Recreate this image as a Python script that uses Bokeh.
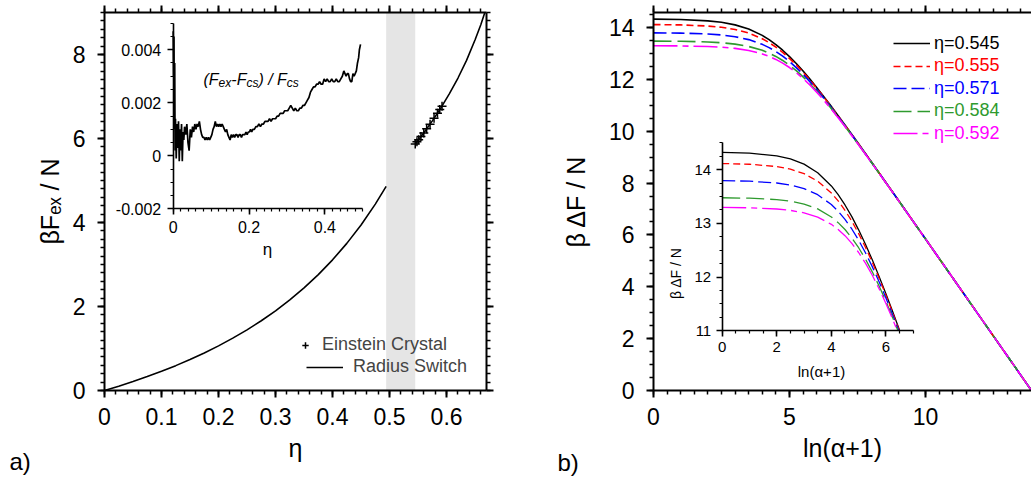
import numpy as np
from bokeh.plotting import figure
from bokeh.layouts import row
from bokeh.models import (Range1d, LinearAxis, Legend, LegendItem, BoxAnnotation, Label,
                          SingleIntervalTicker, PrintfTickFormatter, CustomJSTickFormatter)
from bokeh.embed import file_html
from bokeh.resources import INLINE

FONT = "Liberation Sans"

# ---------------- panel a data ----------------
eta_fluid = [0.0, 0.025, 0.05, 0.075, 0.1, 0.125, 0.15, 0.175, 0.2, 0.225, 0.25,
             0.275, 0.3, 0.325, 0.35, 0.375, 0.4, 0.425, 0.45, 0.475, 0.494]
f_fluid = [0.0, 0.103, 0.213, 0.331, 0.457, 0.592, 0.737, 0.894, 1.063, 1.246, 1.444,
           1.661, 1.898, 2.158, 2.444, 2.760, 3.111, 3.503, 3.942, 4.438, 4.862]
eta_solid = [0.545, 0.56, 0.575, 0.59, 0.605, 0.62, 0.635, 0.65, 0.66, 0.67]
f_solid = [5.87, 6.13, 6.42, 6.73, 7.07, 7.44, 7.86, 8.35, 8.71, 9.12]
eta_ec = [0.545, 0.548, 0.551, 0.555, 0.56, 0.565, 0.571, 0.578, 0.584, 0.588, 0.592]
f_ec = [5.87, 5.92, 5.97, 6.05, 6.13, 6.23, 6.34, 6.48, 6.60, 6.69, 6.77]
coexistence = [0.494, 0.545]
legend_a = ["Einstein Crystal", "Radius Switch"]

eta_dev = [0.000, 0.001, 0.002, 0.003, 0.004, 0.005, 0.006,
           0.008, 0.010, 0.012, 0.014, 0.016, 0.018, 0.020, 0.022, 0.024, 0.026, 0.028, 0.030,
           0.033, 0.036, 0.039, 0.042, 0.045, 0.048, 0.051, 0.054, 0.057, 0.060,
           0.063, 0.066, 0.069, 0.072, 0.075, 0.078, 0.081, 0.084, 0.087, 0.090,
           0.093, 0.096, 0.099, 0.102, 0.105, 0.108, 0.111, 0.114, 0.117, 0.120,
           0.123, 0.126, 0.129, 0.132, 0.135, 0.138, 0.141, 0.144, 0.147, 0.150,
           0.153, 0.156, 0.159, 0.162, 0.165, 0.168, 0.171, 0.174, 0.177, 0.180,
           0.183, 0.186, 0.189, 0.192, 0.195, 0.198, 0.201, 0.204, 0.207, 0.210,
           0.214, 0.218, 0.222, 0.226, 0.230, 0.234, 0.238, 0.242, 0.246, 0.250,
           0.254, 0.258, 0.262, 0.266, 0.270, 0.274, 0.278, 0.282, 0.286, 0.290,
           0.294, 0.298, 0.302, 0.306, 0.310, 0.314, 0.318, 0.322, 0.326, 0.330,
           0.334, 0.338, 0.342, 0.346, 0.350, 0.354, 0.358, 0.362, 0.366, 0.370,
           0.374, 0.378, 0.382, 0.386, 0.390, 0.394, 0.398, 0.402, 0.406, 0.410,
           0.414, 0.418, 0.422, 0.426, 0.430, 0.434, 0.438, 0.442, 0.446, 0.450,
           0.453, 0.456, 0.459, 0.462, 0.465, 0.468, 0.471, 0.474, 0.477, 0.480,
           0.483, 0.486, 0.489, 0.491, 0.494]
dev = [0.0047, 0.0030, 0.0045, 0.0010, 0.0035, 0.0002, 0.0014,
       -0.0001, 0.0012, 0.0003, 0.0013, -0.0002, 0.0010, 0.0002, 0.0012, -0.0002, 0.0009, 0.0006, 0.0011,
       0.0008, 0.0012, 0.0005, 0.0002, 0.0010, 0.0007, 0.0011, 0.0009, 0.0012, 0.0010,
       0.0012, 0.0011, 0.0013, 0.0010, 0.0008, 0.0007, 0.0007, 0.0006, 0.0007, 0.0006,
       0.0007, 0.0006, 0.0007, 0.0008, 0.0010, 0.0011, 0.0013, 0.0011, 0.0012, 0.0011,
       0.0012, 0.0011, 0.0012, 0.0011, 0.0010, 0.0009, 0.0010, 0.0008, 0.0007, 0.0006,
       0.0008, 0.0007, 0.0008, 0.0007, 0.0008, 0.0008, 0.0007, 0.0008, 0.0008, 0.0007,
       0.0008, 0.0008, 0.0008, 0.0009, 0.0008, 0.0009, 0.0009, 0.0010, 0.0009, 0.0010,
       0.0010, 0.0011, 0.0011, 0.0012, 0.0011, 0.0012, 0.0012, 0.0013, 0.0013, 0.0013,
       0.0014, 0.0013, 0.0014, 0.0014, 0.0014, 0.0015, 0.0015, 0.0016, 0.0016, 0.0016,
       0.0017, 0.0017, 0.0017, 0.0018, 0.0019, 0.0018, 0.0017, 0.0018, 0.0017, 0.0017,
       0.0018, 0.0018, 0.0019, 0.0019, 0.0020, 0.0021, 0.0022, 0.0024, 0.0025, 0.0026,
       0.0026, 0.0027, 0.0027, 0.0028, 0.0027, 0.0027, 0.0029, 0.0028, 0.0029, 0.0028,
       0.0028, 0.0029, 0.0028, 0.0028, 0.0029, 0.0028, 0.0028, 0.0029, 0.0030, 0.0032,
       0.0031, 0.0030, 0.0031, 0.0031, 0.0029, 0.0028, 0.0028, 0.0031, 0.0030, 0.0031,
       0.0032, 0.0035, 0.0037, 0.0040, 0.0042]

# ---------------- panel b data ----------------
ln_alpha = [0, 1, 2, 2.5, 3, 3.5, 4, 4.25, 4.5, 4.75, 5, 5.25, 5.5, 5.75, 6, 6.25, 6.5,
            7, 7.5, 8, 9, 10, 11, 12, 13, 13.9]
dF_545 = [14.323, 14.308, 14.257, 14.201, 14.103, 13.944, 13.697, 13.534, 13.343, 13.125, 12.880,
          12.611, 12.321, 12.013, 11.689, 11.354, 11.009, 10.299, 9.572, 8.834, 7.345, 5.849,
          4.35, 2.85, 1.35, 0.0]
dF_555 = [14.114, 14.101, 14.058, 14.010, 13.926, 13.786, 13.566, 13.419, 13.244, 13.041, 12.810,
          12.555, 12.276, 11.977, 11.662, 11.333, 10.993, 10.290, 9.567, 8.832, 7.344, 5.849,
          4.35, 2.85, 1.35, 0.0]
dF_571 = [13.796, 13.785, 13.752, 13.714, 13.647, 13.534, 13.351, 13.226, 13.075, 12.896, 12.688,
          12.454, 12.195, 11.913, 11.612, 11.294, 10.963, 10.273, 9.557, 8.826, 7.343, 5.85,
          4.35, 2.85, 1.35, 0.0]
dF_584 = [13.477, 13.469, 13.443, 13.413, 13.360, 13.270, 13.120, 13.014, 12.886, 12.730, 12.547,
          12.335, 12.098, 11.834, 11.550, 11.245, 10.926, 10.252, 9.545, 8.820, 7.341, 5.85,
          4.35, 2.85, 1.35, 0.0]
dF_592 = [13.297, 13.290, 13.268, 13.242, 13.196, 13.116, 12.982, 12.888, 12.771, 12.628, 12.458,
          12.260, 12.035, 11.783, 11.509, 11.213, 10.901, 10.237, 9.537, 8.815, 7.340, 5.85,
          4.35, 2.85, 1.35, 0.0]
series_labels = ["η=0.545", "η=0.555", "η=0.571", "η=0.584", "η=0.592"]
series_values = [dF_545, dF_555, dF_571, dF_584, dF_592]
series_colors = ["#000000", "#ff0000", "#0000ff", "#2e9a2e", "#ff00ff"]
series_dashes = ["solid", "7 4", "13 5", "18 6", "24 5 6 5"]

# ---------------- geometry (pixels) ----------------
H = 477
WA, WB = 530, 501
A_L, A_R, A_T, A_B = 104, 486, 12, 391          # frame of panel a (page px)
B_L, B_R, B_T, B_B = 653, 1031, 10, 390         # frame of panel b (page px)
TAG_BASELINE = 462                              # page px of the a) / b) tags


def px_lin(p, p0, v0, p1, v1):
    return v0 + (p - p0) * (v1 - v0) / (p1 - p0)


def style_axis(ax, size="23px", lw=2.0, tick_out=7, minor_out=4, standoff=12):
    ax.axis_line_width = lw
    ax.axis_line_color = "black"
    ax.major_tick_line_width = lw
    ax.major_tick_line_color = "black"
    ax.minor_tick_line_width = lw * 0.75
    ax.minor_tick_line_color = "black"
    ax.major_tick_out = tick_out
    ax.major_tick_in = 0
    ax.minor_tick_out = minor_out
    ax.minor_tick_in = 0
    ax.major_label_text_font = FONT
    ax.major_label_text_font_size = size
    ax.major_label_text_color = "black"
    ax.major_label_standoff = standoff
    ax.axis_label_text_font = FONT
    ax.axis_label_text_font_style = "normal"
    ax.axis_label_text_color = "black"
    ax.axis_label_text_font_size = "25px"


def blank_axis(ticker):
    ax = LinearAxis(ticker=ticker, formatter=CustomJSTickFormatter(code="return ''"))
    style_axis(ax)
    ax.major_label_standoff = 0
    return ax


def add_label(fig, x, y, text, size, place=None, **kw):
    lab = Label(x=x, y=y, text=text, text_font=FONT, text_font_size=size,
                text_color=kw.pop("text_color", "black"), **kw)
    if place is None:
        fig.add_layout(lab)
    else:
        fig.add_layout(lab, place)


# =============== panel a ===============
AX = (0.0, 0.67)
AY = (0.0, 9.0)
pa = figure(width=WA, height=H, x_range=Range1d(*AX), y_range=Range1d(*AY),
            output_backend="svg", toolbar_location=None,
            min_border_left=A_L, min_border_right=WA - A_R,
            min_border_top=A_T, min_border_bottom=H - A_B,
            x_axis_label="η", y_axis_label="βFₑₓ / N")
pa.outline_line_color = None
pa.grid.visible = False
pa.background_fill_color = "white"
pa.border_fill_color = "white"

xa = lambda p: px_lin(p, A_L, AX[0], A_R, AX[1])
ya = lambda p: px_lin(p, A_B, AY[0], A_T, AY[1])

xt_a = SingleIntervalTicker(interval=0.1, num_minor_ticks=5)
yt_a = SingleIntervalTicker(interval=2, num_minor_ticks=10)
for ax in pa.xaxis:
    ax.ticker = xt_a
    ax.formatter = PrintfTickFormatter(format="%.3g")
    style_axis(ax, standoff=10)
    ax.axis_label_standoff = 6
for ax in pa.yaxis:
    ax.ticker = yt_a
    style_axis(ax, standoff=12)
    ax.axis_label_standoff = 6
pa.add_layout(blank_axis(xt_a), "above")
pa.add_layout(blank_axis(yt_a), "right")

pa.add_layout(BoxAnnotation(left=coexistence[0], right=coexistence[1], fill_color="#e5e5e5",
                            fill_alpha=1.0, line_color=None, level="underlay"))
r_fluid = pa.line(eta_fluid, f_fluid, line_color="black", line_width=1.6)
pa.line(eta_solid, f_solid, line_color="black", line_width=1.6)
r_ec = pa.scatter(eta_ec, f_ec, marker="cross", size=9, line_color="black", line_width=1.5)

leg1 = Legend(items=[LegendItem(label=legend_a[0], renderers=[r_ec])],
              location=(297 - A_L, A_B - 356.5), glyph_width=16, label_standoff=9)
leg2 = Legend(items=[LegendItem(label=legend_a[1], renderers=[r_fluid])],
              location=(306 - A_L, A_B - 378.7), glyph_width=37, label_standoff=10)
for lg in (leg1, leg2):
    lg.glyph_height = 22
    lg.label_height = 22
    lg.padding = 0
    lg.margin = 0
    lg.spacing = 0
    lg.border_line_color = None
    lg.background_fill_alpha = 0
    lg.label_text_font = FONT
    lg.label_text_font_size = "18px"
    pa.add_layout(lg)

# inset of panel a: its own ranges mapped onto a sub-box of the frame
IA_X = (172.7, 362.3)      # px of eta = 0 and 0.5
IA_Y = (209.0, 22.7)       # px of -0.002 and 0.005
ia_x = (0.0, 0.5)
ia_y = (-0.002, 0.005)
pa.extra_x_ranges = {"ix": Range1d(px_lin(A_L, IA_X[0], ia_x[0], IA_X[1], ia_x[1]),
                                   px_lin(A_R, IA_X[0], ia_x[0], IA_X[1], ia_x[1]))}
pa.extra_y_ranges = {"iy": Range1d(px_lin(A_B, IA_Y[0], ia_y[0], IA_Y[1], ia_y[1]),
                                   px_lin(A_T, IA_Y[0], ia_y[0], IA_Y[1], ia_y[1]))}
iax = LinearAxis(x_range_name="ix", y_range_name="iy", fixed_location=ia_y[0], bounds=ia_x,
                 ticker=SingleIntervalTicker(interval=0.2, num_minor_ticks=10),
                 formatter=PrintfTickFormatter(format="%.3g"))
iay = LinearAxis(x_range_name="ix", y_range_name="iy", fixed_location=ia_x[0], bounds=ia_y,
                 ticker=SingleIntervalTicker(interval=0.002, num_minor_ticks=4),
                 formatter=PrintfTickFormatter(format="%.3g"))
for ax in (iax, iay):
    style_axis(ax, size="16px", lw=1.6, tick_out=6, minor_out=3, standoff=6)
pa.add_layout(iax, "below")
pa.add_layout(iay, "left")
pa.line(eta_dev, dev, x_range_name="ix", y_range_name="iy", line_color="black", line_width=1.7)
add_label(pa, xa(267), ya(250), "η", "17px", text_align="center", text_baseline="middle")

# "(F_ex-F_cs) / F_cs" in italics with subscripts
pieces = [("(F", 0.0, 0, "16px"), ("ex", 15.1, -4, "12px"), ("-F", 27.8, 0, "16px"),
          ("cs", 42.9, -4, "12px"), (") / F", 54.9, 0, "16px"), ("cs", 83.3, -4, "12px")]
for txt, dx, dy, fs in pieces:
    add_label(pa, xa(203), ya(79), txt, fs, x_offset=dx, y_offset=dy,
              text_font_style="italic", text_baseline="alphabetic", text_align="left")

# panel tag, put in a side panel so that it is not clipped to the frame
add_label(pa, xa(9), ya(TAG_BASELINE), "a)", "24px", place="left",
          text_baseline="alphabetic", text_align="left")

# =============== panel b ===============
BX = (0.0, 13.9)
BY = (0.0, 14.58)
pb = figure(width=WB, height=H, x_range=Range1d(*BX), y_range=Range1d(*BY),
            output_backend="svg", toolbar_location=None,
            min_border_left=B_L - WA, min_border_right=0,
            min_border_top=B_T, min_border_bottom=H - B_B,
            x_axis_label="ln(α+1)", y_axis_label="β ΔF / N")
pb.outline_line_color = None
pb.grid.visible = False
pb.background_fill_color = "white"
pb.border_fill_color = "white"

xb = lambda p: px_lin(p - WA, B_L - WA, BX[0], B_R - WA, BX[1])
yb = lambda p: px_lin(p, B_B, BY[0], B_T, BY[1])

xt_b = SingleIntervalTicker(interval=5, num_minor_ticks=10)
yt_b = SingleIntervalTicker(interval=2, num_minor_ticks=4)
for ax in pb.xaxis:
    ax.ticker = xt_b
    style_axis(ax, standoff=10)
    ax.axis_label_standoff = 6
for ax in pb.yaxis:
    ax.ticker = yt_b
    style_axis(ax, standoff=12)
    ax.axis_label_standoff = 16
pb.add_layout(blank_axis(xt_b), "above")

main_lines = []
for vals, col, dash in zip(series_values, series_colors, series_dashes):
    main_lines.append(pb.line(ln_alpha, vals, line_color=col, line_width=1.6, line_dash=dash))

for i, (lab, col, r) in enumerate(zip(series_labels, series_colors, main_lines)):
    cy = 43.3 + 22.5 * i
    lg = Legend(items=[LegendItem(label=lab, renderers=[r])],
                location=(893 - B_L, B_B - (cy + 11)), glyph_width=37, label_standoff=4)
    lg.glyph_height = 22
    lg.label_height = 22
    lg.padding = 0
    lg.margin = 0
    lg.border_line_color = None
    lg.background_fill_alpha = 0
    lg.label_text_font = FONT
    lg.label_text_font_size = "18px"
    lg.label_text_color = col
    pb.add_layout(lg)

# inset of panel b
IB_X = (721.7, 912.7)    # px of ln(a+1) = 0 and 7
IB_Y = (330.0, 141.0)    # px of 11 and 14.5
ib_x = (0.0, 7.0)
ib_y = (11.0, 14.5)
pb.extra_x_ranges = {"jx": Range1d(px_lin(B_L, IB_X[0], ib_x[0], IB_X[1], ib_x[1]),
                                   px_lin(B_R, IB_X[0], ib_x[0], IB_X[1], ib_x[1]))}
pb.extra_y_ranges = {"jy": Range1d(px_lin(B_B, IB_Y[0], ib_y[0], IB_Y[1], ib_y[1]),
                                   px_lin(B_T, IB_Y[0], ib_y[0], IB_Y[1], ib_y[1]))}
jax = LinearAxis(x_range_name="jx", y_range_name="jy", fixed_location=ib_y[0], bounds=ib_x,
                 ticker=SingleIntervalTicker(interval=2, num_minor_ticks=4))
jay = LinearAxis(x_range_name="jx", y_range_name="jy", fixed_location=ib_x[0], bounds=ib_y,
                 ticker=SingleIntervalTicker(interval=1, num_minor_ticks=4))
for ax in (jax, jay):
    style_axis(ax, size="15px", lw=1.6, tick_out=6, minor_out=3, standoff=5)
pb.add_layout(jax, "below")
pb.add_layout(jay, "left")

xs_all = np.array(ln_alpha, dtype=float)
for vals, col, dash in zip(series_values, series_colors, series_dashes):
    ys = np.array(vals, dtype=float)
    keep = ys >= ib_y[0]
    x_cut = float(np.interp(ib_y[0], ys[::-1], xs_all[::-1]))
    xi = np.append(xs_all[keep], x_cut)
    yi = np.append(ys[keep], ib_y[0])
    pb.line(xi, yi, x_range_name="jx", y_range_name="jy", line_color=col, line_width=1.3,
            line_dash=dash)

add_label(pb, xb(675), yb(272), "β ΔF / N", "14px", angle=np.pi / 2,
          text_align="center", text_baseline="middle")
add_label(pb, xb(821), yb(371), "ln(α+1)", "15px", text_align="center", text_baseline="middle")
add_label(pb, xb(557), yb(TAG_BASELINE), "b)", "24px", place="left",
          text_baseline="alphabetic", text_align="left")

layout = row(pa, pb)
with open("out.html", "w") as fh:
    fh.write(file_html(layout, INLINE, title="free energy"))
